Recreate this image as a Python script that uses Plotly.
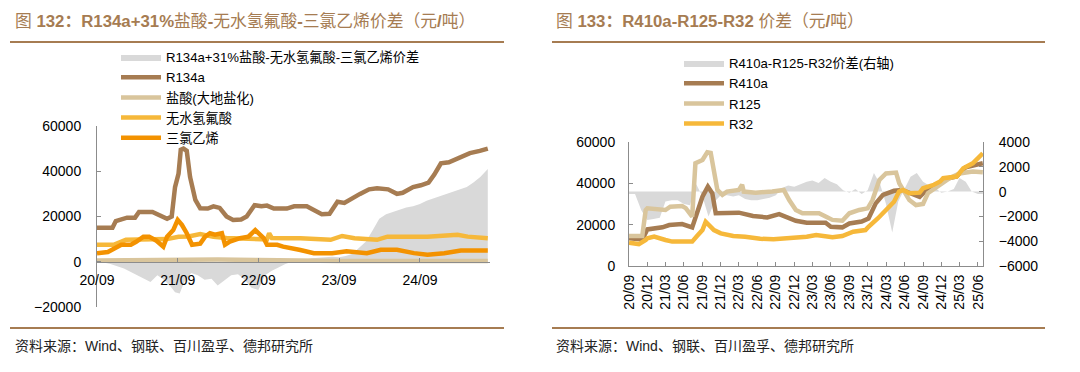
import plotly.graph_objects as go

W, H = 1080, 372
def px(x): return x / W
def py(y): return (H - y) / H

# ---------------- Left chart data (figure 132) ----------------
spread_l_dates = ["2020-09-01","2020-10-01","2020-11-01","2020-12-01","2021-01-01","2021-02-01","2021-03-01","2021-04-01",
    "2021-05-01","2021-06-01","2021-07-01","2021-08-01","2021-08-20","2021-09-10","2021-10-01","2021-11-01","2021-12-01",
    "2022-01-01","2022-02-01","2022-03-01","2022-04-01","2022-05-01","2022-06-01","2022-07-01","2022-08-01","2022-09-01",
    "2022-10-01","2022-11-01","2022-12-01","2023-01-01","2023-02-01","2023-03-01","2023-04-01","2023-05-01","2023-06-01",
    "2023-07-01","2023-08-01","2023-09-01","2023-10-01","2023-11-01","2023-12-01","2024-01-01","2024-02-01","2024-03-01",
    "2024-04-01","2024-05-01","2024-06-01","2024-07-01","2024-08-01","2024-09-01","2024-10-01","2024-11-01","2024-12-01",
    "2025-01-01","2025-02-01","2025-03-01","2025-04-01","2025-05-01","2025-06-01","2025-07-05"]
spread_l_vals = [0,-300,-1000,-2000,-3000,-4500,-6000,-7500,-9000,-6000,-8000,-11000,-13500,-14000,-9000,-5000,-6000,
    -8000,-7500,-10500,-8000,-6000,-5500,-8000,-11500,-12500,-6000,-4000,-2500,-1000,0,500,1000,1500,1800,
    2000,2200,2000,2500,3500,6000,9000,14000,19000,21000,22000,22800,24000,24500,25500,27000,28000,29000,
    30000,31000,32000,33000,35000,37500,41000]

r134a_dates = ["2020-09-01","2020-11-10","2020-11-25","2021-01-15","2021-02-20","2021-03-10","2021-05-10","2021-06-10",
    "2021-07-15","2021-08-05","2021-08-20","2021-09-05","2021-09-15","2021-09-27","2021-10-12","2021-10-27","2021-11-20",
    "2021-12-12","2022-01-15","2022-02-10","2022-03-10","2022-04-10","2022-05-10","2022-06-15","2022-07-10","2022-08-15",
    "2022-09-15","2022-10-10","2022-11-10","2023-01-08","2023-02-10","2023-04-08","2023-05-15","2023-06-15","2023-07-20",
    "2023-08-25","2023-09-25","2023-10-20","2023-12-05","2024-01-15","2024-02-20","2024-04-10","2024-05-20","2024-06-15",
    "2024-08-01","2024-09-05","2024-10-10","2024-11-05","2024-12-05","2025-01-10","2025-03-05","2025-04-15","2025-05-30",
    "2025-07-05"]
r134a_vals = [15000,15000,18000,19500,19500,22000,22000,20500,19000,20000,33000,39000,49500,50000,49000,37500,27300,
    23600,23500,24500,23800,20000,18500,18700,20000,25000,24500,24800,23500,23500,24500,24500,22500,21000,21200,
    26500,26000,27500,30000,32000,32500,32000,30000,30500,33000,33800,35000,38500,43500,44000,46500,48000,49000,
    50000]

hcl_dates = ["2020-09-01","2021-03-01","2021-09-01","2022-03-01","2022-09-01","2023-03-01","2023-09-01","2024-03-01",
    "2024-09-01","2025-03-01","2025-07-05"]
hcl_vals = [500,700,1200,1000,800,400,300,300,300,400,300]

hf_dates = ["2020-09-01","2020-11-15","2021-01-10","2021-04-01","2021-07-15","2021-09-05","2021-10-20","2021-12-12",
    "2022-02-10","2022-04-10","2022-06-10","2022-08-10","2022-10-10","2022-10-20","2022-11-01","2023-01-10","2023-03-10",
    "2023-07-25","2023-09-15","2023-11-10","2024-02-20","2024-04-07","2024-10-05","2025-02-18","2025-04-05","2025-07-05"]
hf_vals = [7500,7500,9700,10000,10000,11000,11200,12200,11000,10500,10300,9900,9900,12600,10500,10400,10400,
    9700,11400,10400,9700,11100,11100,11900,11100,10400]

tce_dates = ["2020-09-01","2020-10-20","2020-12-20","2021-02-01","2021-02-25","2021-03-30","2021-04-25","2021-05-28",
    "2021-06-28","2021-07-15","2021-08-12","2021-09-01","2021-09-20","2021-10-12","2021-11-05","2021-12-12","2022-01-03",
    "2022-01-25","2022-02-17","2022-03-20","2022-04-03","2022-04-25","2022-06-10","2022-07-18","2022-08-18","2022-09-01",
    "2022-09-25","2022-10-10","2022-11-25","2022-12-22","2023-02-08","2023-03-10","2023-05-10","2023-08-01","2023-10-05",
    "2024-01-05","2024-03-08","2024-05-20","2024-08-05","2024-10-05","2024-12-20","2025-03-05","2025-07-05"]
tce_vals = [3800,4300,7500,7500,8800,11100,11100,9300,6700,11100,14000,18500,16300,12600,7500,8000,11100,
    12600,12000,12600,7500,8900,10400,11100,14000,12600,10400,7500,7500,6700,6000,5200,3800,3800,4600,
    3800,5300,5300,3800,3100,3800,5000,5000]

left_tickvals = ["2020-09-01","2021-09-01","2022-09-01","2023-09-01","2024-09-01"]
left_ticktext = ["20/09","21/09","22/09","23/09","24/09"]

# ---------------- Right chart data (figure 133) ----------------
spread_r_dates = ["2020-09-01","2020-10-01","2020-11-01","2020-12-01","2021-01-01","2021-02-01","2021-03-01","2021-04-01",
    "2021-05-01","2021-06-01","2021-07-01","2021-08-01","2021-09-01","2021-10-01","2021-11-01","2021-12-01","2022-01-01",
    "2022-02-01","2022-03-01","2022-04-01","2022-05-01","2022-06-01","2022-07-01","2022-08-01","2022-09-01","2022-10-01",
    "2022-11-01","2022-12-01","2023-01-01","2023-02-01","2023-03-01","2023-04-01","2023-05-01","2023-06-01","2023-07-01",
    "2023-08-01","2023-09-01","2023-10-01","2023-11-01","2023-12-01","2024-01-01","2024-02-01","2024-03-01","2024-04-01",
    "2024-05-01","2024-06-01","2024-07-01","2024-08-01","2024-09-01","2024-10-01","2024-11-01","2024-12-01","2025-01-01",
    "2025-02-01","2025-03-01","2025-04-01","2025-05-01","2025-06-01","2025-06-25"]
spread_r_vals = [-200,-200,-1500,-2300,-2200,-2100,-800,-700,-700,-1000,-1100,600,-400,-2000,-800,-300,-300,
    -400,-300,-600,-700,-700,-600,-500,-300,300,500,400,600,800,900,700,1100,800,600,
    100,-100,200,-200,100,1500,600,-1000,-3300,-800,200,1200,1500,800,500,300,-100,0,
    200,1100,800,0,-200,-200]

r410a_dates = ["2020-09-01","2020-11-06","2020-12-01","2021-02-14","2021-03-20","2021-05-23","2021-07-12","2021-07-28",
    "2021-09-01","2021-09-28","2021-10-20","2021-11-06","2021-12-20","2022-03-01","2022-05-10","2022-07-20","2022-09-17",
    "2022-11-06","2022-12-09","2023-02-01","2023-05-06","2023-06-01","2023-07-28","2023-09-01","2023-11-01","2023-12-05",
    "2024-01-10","2024-02-15","2024-04-10","2024-05-20","2024-06-10","2024-07-10","2024-08-15","2024-09-10","2024-10-25",
    "2024-12-15","2025-02-15","2025-04-01","2025-06-25"]
r410a_vals = [13400,12900,17700,18700,19800,20300,18700,23000,33500,38400,35200,25500,25800,25800,24200,23500,25100,
    23000,21900,20900,20900,19000,18700,20600,21500,23000,30300,34400,36400,36800,36000,34400,33500,36000,38400,
    42000,43300,47800,49700]

r125_dates = ["2020-09-01","2020-11-06","2020-11-23","2020-12-01","2021-03-01","2021-03-25","2021-05-23","2021-06-10",
    "2021-07-12","2021-07-28","2021-09-01","2021-09-25","2021-10-12","2021-10-28","2021-11-14","2021-12-09","2022-01-01",
    "2022-03-01","2022-03-17","2022-03-25","2022-05-23","2022-08-14","2022-09-17","2022-10-10","2022-11-06","2022-12-09",
    "2023-01-11","2023-04-03","2023-05-06","2023-06-09","2023-07-28","2023-09-01","2023-10-20","2023-12-01","2023-12-25",
    "2024-01-28","2024-03-01","2024-04-20","2024-05-06","2024-06-01","2024-06-25","2024-07-28","2024-09-01","2024-09-25",
    "2024-11-23","2025-01-11","2025-03-01","2025-05-06","2025-06-25"]
r125_vals = [14500,14500,27100,27900,27100,28700,29000,28000,23900,49700,51300,55000,54700,46500,36800,34400,36000,
    36800,39300,36000,35500,36000,36800,36800,31900,27100,25500,25500,23900,22300,21900,25500,27100,27900,31900,
    41600,44800,45200,40000,35200,31900,29500,30000,35200,39300,42500,44800,45700,45400]

r32_dates = ["2020-09-01","2020-10-20","2020-11-23","2020-12-01","2021-01-04","2021-01-25","2021-03-01","2021-04-04",
    "2021-07-12","2021-08-05","2021-09-01","2021-09-17","2021-10-01","2021-10-28","2021-12-01","2022-02-01","2022-04-01",
    "2022-06-15","2022-08-20","2022-11-25","2023-02-01","2023-03-20","2023-05-06","2023-06-09","2023-07-28","2023-09-20",
    "2023-11-20","2023-12-05","2024-01-20","2024-03-01","2024-04-10","2024-05-05","2024-05-25","2024-06-25","2024-08-15",
    "2024-09-01","2024-10-25","2024-11-25","2024-12-10","2025-02-15","2025-03-20","2025-05-06","2025-06-25"]
r32_vals = [11300,10600,12600,13400,14200,13800,12600,11800,11800,14500,17400,21400,19800,17400,15800,14500,14200,
    13200,12900,13500,14200,15000,14500,13900,14500,16600,17400,19000,23000,27100,31100,36000,36800,35200,35500,
    37600,39300,40900,42500,43300,47300,49700,54500]

right_tickvals = ["2020-09-01","2020-12-01","2021-03-01","2021-06-01","2021-09-01","2021-12-01","2022-03-01","2022-06-01",
    "2022-09-01","2022-12-01","2023-03-01","2023-06-01","2023-09-01","2023-12-01","2024-03-01","2024-06-01","2024-09-01",
    "2024-12-01","2025-03-01","2025-06-01"]
right_ticktext = ["20/09","20/12","21/03","21/06","21/09","21/12","22/03","22/06","22/09","22/12","23/03","23/06",
    "23/09","23/12","24/03","24/06","24/09","24/12","25/03","25/06"]

# ---------------- Styles ----------------
BROWN = "#A67C52"
BEIGE = "#D9C59C"
YELLOW = "#F6B83A"
ORANGE = "#F39200"
GRAY = "#D9D9D9"
AXIS = "#8C8C8C"
FONT = "Liberation Sans, Arial, Noto Sans CJK SC"
LW = 4.5

fig = go.Figure()

# left chart traces
fig.add_trace(go.Scatter(x=spread_l_dates, y=spread_l_vals, name="R134a+31%盐酸-无水氢氟酸-三氯乙烯价差",
    mode="lines", fill="tozeroy", fillcolor=GRAY, line=dict(width=0, color=GRAY),
    xaxis="x", yaxis="y", legend="legend"))
fig.add_trace(go.Scatter(x=r134a_dates, y=r134a_vals, name="R134a", mode="lines",
    line=dict(width=LW, color=BROWN), xaxis="x", yaxis="y", legend="legend"))
fig.add_trace(go.Scatter(x=hcl_dates, y=hcl_vals, name="盐酸(大地盐化)", mode="lines",
    line=dict(width=LW, color=BEIGE), xaxis="x", yaxis="y", legend="legend"))
fig.add_trace(go.Scatter(x=hf_dates, y=hf_vals, name="无水氢氟酸", mode="lines",
    line=dict(width=LW, color=YELLOW), xaxis="x", yaxis="y", legend="legend"))
fig.add_trace(go.Scatter(x=tce_dates, y=tce_vals, name="三氯乙烯", mode="lines",
    line=dict(width=LW, color=ORANGE), xaxis="x", yaxis="y", legend="legend"))

# right chart traces
fig.add_trace(go.Scatter(x=spread_r_dates, y=spread_r_vals, name="R410a-R125-R32价差(右轴)",
    mode="lines", fill="tozeroy", fillcolor=GRAY, line=dict(width=0, color=GRAY),
    xaxis="x2", yaxis="y3", legend="legend2"))
fig.add_trace(go.Scatter(x=r410a_dates, y=r410a_vals, name="R410a", mode="lines",
    line=dict(width=LW, color=BROWN), xaxis="x2", yaxis="y4", legend="legend2"))
fig.add_trace(go.Scatter(x=r125_dates, y=r125_vals, name="R125", mode="lines",
    line=dict(width=LW, color=BEIGE), xaxis="x2", yaxis="y4", legend="legend2"))
fig.add_trace(go.Scatter(x=r32_dates, y=r32_vals, name="R32", mode="lines",
    line=dict(width=LW, color=YELLOW), xaxis="x2", yaxis="y4", legend="legend2"))

tickfont = dict(family=FONT, size=14, color="#000000")
common_ax = dict(showgrid=False, zeroline=False, showline=True, linecolor=AXIS, linewidth=1,
                 ticks="inside", ticklen=4, tickcolor=AXIS, tickfont=tickfont, automargin=False)
legfont = dict(family=FONT, size=13.2, color="#000000")

fig.update_layout(
    width=W, height=H, margin=dict(l=0, r=0, t=0, b=0, autoexpand=False),
    paper_bgcolor="white", plot_bgcolor="white",
    font=dict(family=FONT, size=14, color="#000000"),
    xaxis=dict(domain=[px(97), px(490)], anchor="free", position=py(262), type="date",
               range=["2020-09-01", "2025-07-15"], tickmode="array", tickvals=left_tickvals,
               ticktext=left_ticktext, ticklabelstandoff=5, **common_ax),
    yaxis=dict(domain=[py(307), py(126)], anchor="x", range=[-20000, 60000], dtick=20000,
               tickformat="d", ticklabelstandoff=12, **common_ax),
    xaxis2=dict(domain=[px(629), px(983)], anchor="y3", type="date",
                range=["2020-09-01", "2025-06-26"], tickmode="array", tickvals=right_tickvals,
                ticktext=right_ticktext, tickangle=-90, ticklabelstandoff=2, **common_ax),
    yaxis3=dict(domain=[py(266), py(142)], anchor="x2", side="right", range=[-6000, 4000], dtick=2000,
                tickformat="d", ticklabelstandoff=12, **common_ax),
    yaxis4=dict(overlaying="y3", anchor="x2", side="left", range=[0, 60000], dtick=20000,
                tickformat="d", ticklabelstandoff=10, **common_ax),
    legend=dict(x=px(116), y=py(42), xanchor="left", yanchor="top", bgcolor="rgba(0,0,0,0)",
                font=legfont, itemwidth=40, tracegroupgap=0),
    legend2=dict(x=px(679), y=py(48), xanchor="left", yanchor="top", bgcolor="rgba(0,0,0,0)",
                 font=legfont, itemwidth=40, tracegroupgap=0),
    showlegend=True,
)

TITLE_C = "#A67C52"
fig.add_annotation(x=px(13), y=py(22), xref="paper", yref="paper", xanchor="left", yanchor="middle",
    showarrow=False, font=dict(family=FONT, size=16.8, color=TITLE_C),
    text="图 <b>132：R134a+31%</b>盐酸<b>-</b>无水氢氟酸<b>-</b>三氯乙烯价差（元<b>/</b>吨）")
fig.add_annotation(x=px(554), y=py(22), xref="paper", yref="paper", xanchor="left", yanchor="middle",
    showarrow=False, font=dict(family=FONT, size=16.8, color=TITLE_C),
    text="图 <b>133：R410a-R125-R32</b> 价差（元<b>/</b>吨）")
for x0 in (13, 554):
    fig.add_annotation(x=px(x0), y=py(346), xref="paper", yref="paper", xanchor="left", yanchor="middle",
        showarrow=False, font=dict(family=FONT, size=14, color="#222222"),
        text="资料来源：Wind、钢联、百川盈孚、德邦研究所")

for (x0, x1) in ((10, 504), (552, 1045)):
    for yy in (42, 328):
        fig.add_shape(type="line", xref="paper", yref="paper", x0=px(x0), x1=px(x1), y0=py(yy), y1=py(yy),
                      line=dict(color=TITLE_C, width=2))

fig.write_html("out.html", config={"displayModeBar": False},
               post_script="document.body.style.margin='0';document.body.style.padding='0';"
                           "document.body.style.overflow='hidden';")
